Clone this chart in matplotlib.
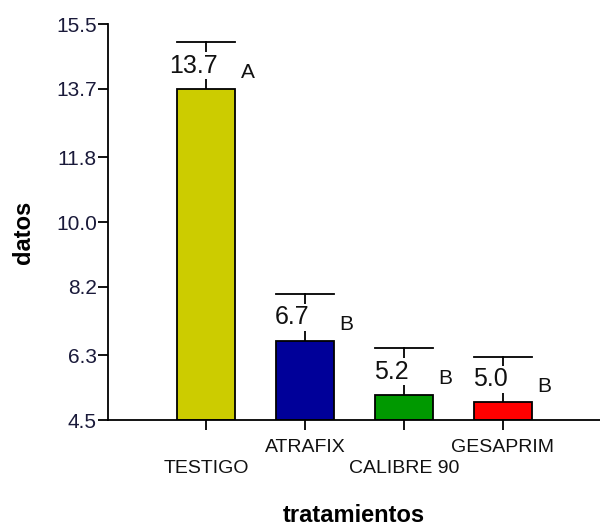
import matplotlib
matplotlib.use("Agg")
import matplotlib.pyplot as plt

plt.rcParams["font.family"] = ["Liberation Sans", "DejaVu Sans"]

# ===== data =====
tratamientos = ["TESTIGO", "ATRAFIX", "CALIBRE 90", "GESAPRIM"]
medias = [13.7, 6.7, 5.2, 5.0]
errores = [1.30, 1.30, 1.29, 1.26]
letras = ["A", "B", "B", "B"]
colores = ["#cccc00", "#000099", "#009900", "#ff0000"]
yticks = [4.5, 6.3, 8.2, 10.0, 11.8, 13.7, 15.5]

fig = plt.figure(figsize=(6, 5.25), dpi=100)
ax = fig.add_axes([0.18, 0.2, 0.82, 0.754])

x = list(range(len(tratamientos)))
ax.bar(x, [m - 4.5 for m in medias], bottom=4.5, width=0.59,
       color=colores, edgecolor="black", linewidth=1.3, zorder=2)

for i, (m, e) in enumerate(zip(medias, errores)):
    # error bar: vertical line + wide cap
    ax.plot([i, i], [m, m + e], color="black", lw=1.3, zorder=1)
    ax.plot([i - 0.295, i + 0.295], [m + e, m + e], color="black", lw=1.3, zorder=1)
    mid = m + e / 2
    ax.text(i - 0.13, mid, f"{m:.1f}", ha="center", va="center", fontsize=18,
            color="#111111", zorder=3,
            bbox=dict(facecolor="white", edgecolor="none", pad=1))
    ax.text(i + 0.42, mid - 0.2, letras[i], ha="center", va="center",
            fontsize=15, color="#111111")

ax.set_ylim(4.5, 15.5)
ax.set_xlim(-0.99, 3.98)
ax.set_yticks(yticks)
ax.set_yticklabels([f"{v:.1f}" for v in yticks], fontsize=15, color="#1a1a3a")
ax.set_xticks(x)
ax.set_xticklabels(tratamientos, fontsize=14, color="#111111")
for i, lab in enumerate(ax.get_xticklabels()):
    if i % 2 == 0:
        lab.set_y(-0.065)
    else:
        lab.set_y(-0.01)

ax.tick_params(axis="both", direction="out", length=7, width=1.3)
ax.tick_params(axis="y", pad=1)
ax.spines["top"].set_visible(False)
ax.spines["right"].set_visible(False)
ax.spines["left"].set_linewidth(1.3)
ax.spines["bottom"].set_linewidth(1.3)

ax.set_ylabel("datos", fontsize=17, fontweight="bold", va="center")
ax.yaxis.set_label_coords(-0.171, 0.475)
ax.set_xlabel("tratamientos", fontsize=17, fontweight="bold", va="center")
ax.xaxis.set_label_coords(0.5, -0.24)

fig.savefig("out.png", dpi=100)
